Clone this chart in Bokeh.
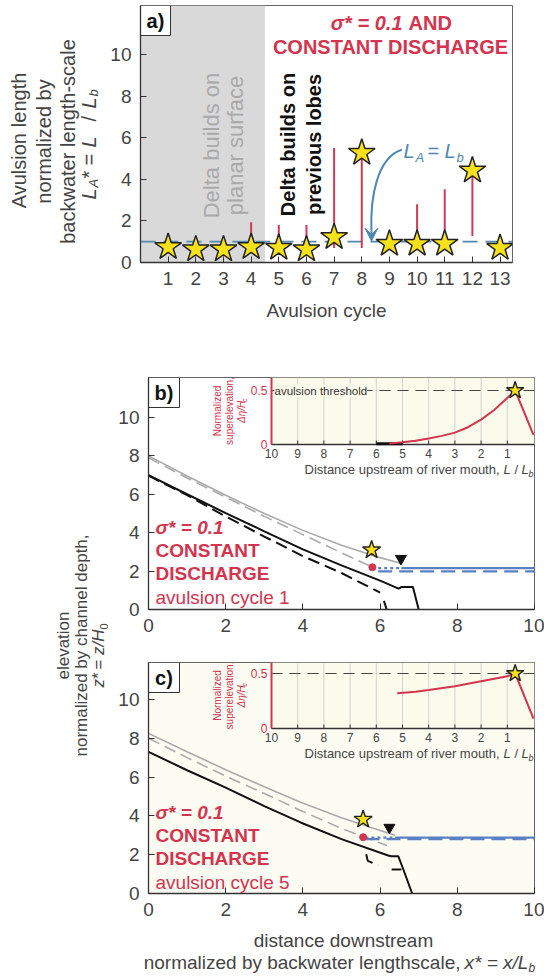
import math
from bokeh.plotting import figure
from bokeh.models import Range1d, Label, FixedTicker, Arrow, VeeHead, Span, BoxAnnotation
from bokeh.layouts import column, row
from bokeh.core.properties import value
from bokeh.embed import file_html
from bokeh.resources import INLINE

FONT = "Liberation Sans"
TXT = "#444444"
RED = "#d3354f"
STEM = "#cf3b57"
BLUE_A = "#4f88b0"
BLUE = "#5a80c3"
YEL = "#f7e11b"
GRAY = "#aaaaaa"
INSET_BG = "#fbfbec"
B_BG = "#ffffff"
C_BG = "#fcfcf3"
ROT = math.pi / 2

# ---------------- panel a data
cycles = list(range(1, 14))
la_star = [0.74, 0.63, 0.63, 0.74, 0.71, 0.63, 1.22, 5.27, 0.90, 0.90, 0.90, 4.42, 0.70]
stem_cycles = [4, 5, 6, 7, 8, 10, 11, 12]
stem_low = [0.9, 0.9, 0.9, 0.70, 0.70, 0.9, 0.9, 1.27]
stem_high = [1.94, 1.80, 1.80, 5.50, 5.27, 2.80, 3.52, 4.42]
la_ref = 1.0
planar_last = 4.5
a_yticks = [0, 2, 4, 6, 8, 10]
a_xlim = (0, 13.45)
a_ylim = (0, 12.35)
arrow_curve = dict(x0=[9.45], y0=[5.42], cx0=[8.55], cy0=[5.05], cx1=[8.3], cy1=[3.1], x1=[8.35], y1=[1.5])
arrow_tip = (8.35, 1.03)

# ---------------- panel b / c data
xs_ticks = [0, 2, 4, 6, 8, 10]
z_ticks = [0, 2, 4, 6, 8, 10]
xs_lim = (0, 10)

b_gray_x = [0, 1, 2, 3, 4, 5, 6, 6.55]
b_gray_y = [8.0, 6.95, 5.95, 5.0, 4.12, 3.35, 2.7, 2.4]
b_grayd_x = [0, 1, 2, 3, 4, 5, 5.75]
b_grayd_y = [7.9, 6.85, 5.85, 4.85, 3.9, 2.95, 2.25]
b_black_x = [0, 1, 2, 3, 4, 5, 6, 6.48, 6.55, 6.85, 7.0]
b_black_y = [7.0, 6.0, 5.02, 4.07, 3.13, 2.3, 1.5, 1.09, 1.17, 1.17, 0.0]
b_blackd_xs = [[0, 1, 2, 3, 4, 5, 6.0], [6.1, 6.17]]
b_blackd_ys = [[6.97, 5.95, 4.85, 3.8, 2.78, 1.9, 0.88], [0.45, 0.0]]
b_sea_x, b_sea_y = [6.55, 10.0], [2.15, 2.15]
b_seadot_x, b_seadot_y = [5.95, 6.55], [2.15, 2.15]
b_seadash_x, b_seadash_y = [5.95, 10.0], [1.98, 1.98]
b_avul = (5.8, 2.2)
b_star = (5.78, 3.1)
b_shore = (6.54, 2.65)

c_gray_x = [0, 1, 2, 3, 3.94, 5, 6, 6.39]
c_gray_y = [8.25, 7.3, 6.38, 5.5, 4.7, 3.9, 3.25, 3.0]
c_grayd_x = [0, 1, 2, 3, 3.94, 5, 6.18]
c_grayd_y = [8.0, 7.0, 6.05, 5.15, 4.28, 3.35, 2.47]
c_black_x = [0, 1, 2, 3, 3.94, 5, 6.21, 6.3, 6.47, 6.6, 6.83]
c_black_y = [7.3, 6.35, 5.45, 4.5, 3.66, 2.8, 1.96, 1.92, 1.92, 1.25, 0.0]
c_blackd_xs = [[5.64, 5.68, 5.95], [6.3, 6.55]]
c_blackd_ys = [[2.02, 1.68, 1.45], [1.24, 1.24]]
c_sea_x, c_sea_y = [6.39, 10.0], [2.88, 2.88]
c_seadot_x, c_seadot_y = [5.62, 6.39], [2.88, 2.88]
c_seadash_x, c_seadash_y = [5.62, 10.0], [2.8, 2.8]
c_avul = (5.56, 2.9)
c_star = (5.56, 3.82)
c_shore = (6.24, 3.4)

# inset: superelevation vs distance upstream of river mouth
inset_ticks = [10, 9, 8, 7, 6, 5, 4, 3, 2, 1]
inset_yticks = [0, 0.5]
threshold = 0.5
b_sup_x = [5.5, 5, 4.5, 4, 3.5, 3, 2.5, 2, 1.5, 1, 0.7, 0.0]
b_sup_y = [0.01, 0.02, 0.035, 0.055, 0.08, 0.11, 0.16, 0.23, 0.32, 0.43, 0.5, 0.09]
b_flat_x, b_flat_y = [6.0, 5.0], [0.006, 0.006]
c_sup_x = [5.2, 4.5, 4, 3, 2, 1, 0.7, 0.0]
c_sup_y = [0.32, 0.335, 0.35, 0.385, 0.43, 0.475, 0.5, 0.09]
sup_star = (0.7, 0.5)

# Arial / Liberation Sans advance widths (1/1000 em) for text measuring
_W = {" ": 278, ",": 278, "-": 333, "A": 667, "a": 556, "b": 556, "c": 500, "d": 556,
      "e": 556, "g": 556, "h": 556, "i": 222, "k": 500, "l": 222, "m": 833, "n": 556,
      "o": 556, "p": 556, "r": 333, "s": 500, "t": 278, "u": 556, "v": 500, "w": 722,
      "y": 500, "z": 500}


def text_w(s, size):
    return sum(_W.get(ch, 556) for ch in s) * size / 1000.0


class Geo:
    """page-pixel -> data mapping for a frame"""
    def __init__(self, fl, fr, ft, fb, xr, yr):
        self.fl, self.fr, self.ft, self.fb, self.xr, self.yr = fl, fr, ft, fb, xr, yr

    def x(self, px):
        return self.xr[0] + (px - self.fl) * (self.xr[1] - self.xr[0]) / (self.fr - self.fl)

    def y(self, py):
        return self.yr[0] + (self.fb - py) * (self.yr[1] - self.yr[0]) / (self.fb - self.ft)


def lab(p, g, px, py, text, size=19, color=TXT, style="normal", align="left",
        baseline="middle", angle=0.0, **kw):
    p.add_layout(Label(x=g.x(px), y=g.y(py), text=text, text_font=FONT,
                       text_font_size=f"{size}px", text_color=color,
                       text_font_style=style, text_align=align,
                       text_baseline=baseline, angle=angle, **kw))


def vlab(p, g, px, py_center, text, size, color=TXT, style="normal"):
    """vertical (bottom-to-top) text centred on py_center, placed word by word"""
    start = py_center + text_w(text, size) / 2
    for word in text.split(" "):
        lab(p, g, px, start, word, size, color, style, "left", angle=ROT)
        start -= text_w(word + " ", size)


def no_align(p):
    try:
        p.frame_align = False
    except Exception:
        pass


def strip(left, top, width, height, bl=0, br=0, bt=0, bb=0):
    """text-only figure; its frame is given by the borders (1 unit = 1 px)"""
    fw, fh = width - bl - br, height - bt - bb
    p = figure(width=width, height=height, x_range=Range1d(0, fw),
               y_range=Range1d(0, fh), min_border_left=bl, min_border_right=br,
               min_border_top=bt, min_border_bottom=bb, outline_line_color=None,
               output_backend="svg", toolbar_location=None, border_fill_color="white",
               background_fill_color="white")
    p.xaxis.visible = False
    p.yaxis.visible = False
    p.grid.visible = False
    no_align(p)
    return p, Geo(left + bl, left + width - br, top + bt, top + height - bb, (0, fw), (0, fh))


def style_axes(p, xt, yt, size="19px"):
    p.grid.visible = False
    p.xaxis.ticker = FixedTicker(ticks=xt)
    p.yaxis.ticker = FixedTicker(ticks=yt)
    for ax in (p.xaxis[0], p.yaxis[0]):
        ax.major_tick_in = 6
        ax.major_tick_out = 0
        ax.minor_tick_line_color = None
        ax.axis_line_color = "#333333"
        ax.axis_line_width = 1.3
        ax.major_tick_line_color = "#333333"
        ax.major_label_text_font = FONT
        ax.major_label_text_font_size = size
        ax.major_label_text_color = TXT
    p.xaxis.major_label_standoff = 9
    p.yaxis.major_label_standoff = 9


def label_box(p, g, l, t, r, b, text):
    p.quad(left=[g.x(l)], right=[g.x(r)], top=[g.y(t)], bottom=[g.y(b)],
           fill_color="white", line_color="#333333", line_width=1)
    lab(p, g, (l + r) / 2, (t + b) / 2, text, 20, "#111111", "bold", "center")


# ======================= panel a =======================
GA = Geo(140, 512, 5, 262, a_xlim, a_ylim)
pa = figure(width=444, height=335, x_range=Range1d(*a_xlim), y_range=Range1d(*a_ylim),
            output_backend="svg", toolbar_location=None,
            min_border_left=40, min_border_right=32, min_border_top=5, min_border_bottom=73,
            background_fill_color="white", border_fill_color="white",
            outline_line_color="#666666")
style_axes(pa, cycles, a_yticks)
pa.xaxis.axis_label = "Avulsion cycle"
pa.xaxis.axis_label_text_font = FONT
pa.xaxis.axis_label_text_font_size = "19px"
pa.xaxis.axis_label_text_font_style = "normal"
pa.xaxis.axis_label_text_color = TXT
pa.xaxis.axis_label_standoff = 12
pa.add_layout(BoxAnnotation(right=planar_last, fill_color="#d9d9d9", fill_alpha=1,
                            line_color=None, level="underlay"))
pa.add_layout(Span(location=la_ref, dimension="width", line_color=BLUE_A,
                   line_width=1.8, line_dash="15 8", level="underlay"))
pa.segment(x0=stem_cycles, y0=stem_low, x1=stem_cycles, y1=stem_high,
           line_color=STEM, line_width=2)
pa.bezier(line_color=BLUE_A, line_width=2, **arrow_curve)
pa.add_layout(Arrow(end=VeeHead(size=13, fill_color=BLUE_A, line_color=BLUE_A),
                    x_start=arrow_curve["x1"][0], y_start=arrow_curve["y1"][0],
                    x_end=arrow_tip[0], y_end=arrow_tip[1],
                    line_color=BLUE_A, line_width=2))
pa.scatter(cycles, la_star, marker="star", size=28, fill_color=YEL,
           line_color="#222222", line_width=1.5)

label_box(pa, GA, 140, 5, 170, 35, "a)")
lab(pa, GA, 402, 22, "σ* = 0.1", 20, RED, "bold italic", "right")
lab(pa, GA, 408, 22, "AND", 20, RED, "bold", "left")
lab(pa, GA, 390, 46, "CONSTANT DISCHARGE", 20, RED, "bold", "center")
lab(pa, GA, 211, 145, "Delta builds on", 22, "#a9a9a9", "normal", "center", angle=ROT)
lab(pa, GA, 235, 145, "planar surface", 22, "#a9a9a9", "normal", "center", angle=ROT)
lab(pa, GA, 287, 144, "Delta builds on", 20, "#111111", "bold", "center", angle=ROT)
lab(pa, GA, 313, 144, "previous lobes", 20, "#111111", "bold", "center", angle=ROT)
lab(pa, GA, 403, 150, "L", 20, BLUE_A, "italic")
lab(pa, GA, 415, 157, "A", 13, BLUE_A, "italic")
lab(pa, GA, 427, 150, "=", 20, BLUE_A, "normal")
lab(pa, GA, 444, 150, "L", 20, BLUE_A, "italic")
lab(pa, GA, 456, 157, "b", 13, BLUE_A, "italic")

# y title of panel a (same vertical borders as panel a)
ta, GTA = strip(0, 0, 100, 335, bt=5, bb=73)
vlab(ta, GTA, 18, 140, "Avulsion length", 20)
vlab(ta, GTA, 43, 141, "normalized by", 20)
vlab(ta, GTA, 67, 141, "backwater length-scale", 20)
for txt, py, sz, st, dx in [("L", 199, 20, "italic", 0), ("A", 187, 13, "italic", 5),
                            ("*", 178, 20, "normal", 0), ("=", 165, 20, "normal", 0),
                            ("L", 147, 20, "italic", 0), ("/", 121, 20, "normal", 0),
                            ("L", 108, 20, "italic", 0), ("b", 96, 13, "italic", 5)]:
    lab(ta, GTA, 88 + dx, py, txt, sz, TXT, st, "left", angle=ROT)


# ======================= panels b, c =======================
def inset_geo(ft, fb, y0_px, yhalf_px):
    ppx = (533 - 271) / 10.0
    xr = (10 + (271 - 148) / ppx, 0 - (534 - 533) / ppx)
    ppy = (y0_px - yhalf_px) / threshold
    yr = (-(fb - y0_px) / ppy, (y0_px - ft) / ppy)
    return Geo(148, 534, ft, fb, xr, yr)


def panel(height, bt, bb, ylim, bg, gi):
    p = figure(width=436, height=height, x_range=Range1d(*xs_lim), y_range=Range1d(*ylim),
               output_backend="svg", toolbar_location=None,
               min_border_left=40, min_border_right=10, min_border_top=bt, min_border_bottom=bb,
               background_fill_color=bg, border_fill_color="white",
               outline_line_color="#666666")
    style_axes(p, xs_ticks, z_ticks)
    p.extra_x_ranges = {"ix": Range1d(*gi.xr)}
    p.extra_y_ranges = {"iy": Range1d(*gi.yr)}
    return p


def draw_profiles(p, gx, gy, gdx, gdy, bx, by, bdxs, bdys, sea, seadot, seadash, avul, star, shore):
    p.line(gx, gy, line_color=GRAY, line_width=1.6)
    p.line(gdx, gdy, line_color=GRAY, line_width=1.6, line_dash="12 6")
    p.multi_line(bdxs, bdys, line_color="#111111", line_width=2, line_dash="12 6")
    p.line(bx, by, line_color="#111111", line_width=2)
    p.line(seadash[0], seadash[1], line_color=BLUE, line_width=2.2, line_dash="14 7")
    p.line(seadot[0], seadot[1], line_color=BLUE, line_width=2.2, line_dash="3 3")
    p.line(sea[0], sea[1], line_color=BLUE, line_width=2.2)
    p.scatter([avul[0]], [avul[1]], size=7, fill_color=RED, line_color=RED)
    p.scatter([star[0]], [star[1]], marker="star", size=19, fill_color=YEL,
              line_color="#222222", line_width=1.4)
    p.scatter([shore[0]], [shore[1]], marker="inverted_triangle", size=11,
              fill_color="#111111", line_color="#111111")


def draw_inset(p, g, gi, sx, sy, flat=None, thresh_label=False):
    kw = dict(x_range_name="ix", y_range_name="iy")
    xe, yt = gi.xr[1], gi.yr[1]
    x10 = inset_ticks[0]
    p.quad(left=[x10], right=[xe], bottom=[0], top=[yt], fill_color=INSET_BG,
           line_color=None, **kw)
    inner = inset_ticks[1:]
    p.segment(x0=inner, y0=[0] * len(inner), x1=inner, y1=[yt] * len(inner),
              line_color="#d2d2d2", line_width=1, **kw)
    p.segment(x0=[x10], y0=[threshold], x1=[xe], y1=[threshold], line_color="#444444",
              line_width=1.2, line_dash="11 7", **kw)
    p.segment(x0=[x10], y0=[0], x1=[xe], y1=[0], line_color="#333333", line_width=1.3, **kw)
    tl = 4.0 / ((gi.fb - gi.ft) / (gi.yr[1] - gi.yr[0]))
    p.segment(x0=inset_ticks, y0=[0] * len(inset_ticks), x1=inset_ticks,
              y1=[tl] * len(inset_ticks), line_color="#333333", line_width=1, **kw)
    p.segment(x0=[x10], y0=[0], x1=[x10], y1=[yt], line_color=RED, line_width=2, **kw)
    p.text(x=inset_ticks, y=[0] * len(inset_ticks), text=[str(t) for t in inset_ticks],
           y_offset=4, text_align="center", text_baseline="top", text_font_size="12px",
           text_color=TXT, text_font=value(FONT), **kw)
    p.text(x=[x10] * len(inset_yticks), y=inset_yticks, text=["0", "0.5"], x_offset=-4,
           text_align="right", text_baseline="middle", text_font_size="12px",
           text_color=RED, text_font=value(FONT), **kw)
    if flat is not None:
        p.line(flat[0], flat[1], line_color="#111111", line_width=3, **kw)
    p.line(sx, sy, line_color=RED, line_width=2, **kw)
    p.scatter([sup_star[0]], [sup_star[1]], marker="star", size=18, fill_color=YEL,
              line_color="#222222", line_width=1.4, **kw)
    ybase = gi.fb - (0 - gi.yr[0]) * (gi.fb - gi.ft) / (gi.yr[1] - gi.yr[0])
    y_mid = (gi.ft + ybase) / 2
    if thresh_label:
        lab(p, g, 274, ybase - 54, "avulsion threshold", 11.5, "#333333", "normal", "left",
            background_fill_color=INSET_BG)
    lab(p, g, 217, y_mid, "Normalized", 10, RED, "normal", "center", angle=ROT)
    lab(p, g, 229, y_mid, "superelevation,", 10, RED, "normal", "center", angle=ROT)
    lab(p, g, 241, y_mid + 12, "Δη/H", 10, RED, "italic", "left", angle=ROT)
    lab(p, g, 244, y_mid - 9, "c", 7, RED, "italic", "left", angle=ROT)
    yl = ybase + 25
    lab(p, g, 304, yl, "Distance upstream of river mouth,", 13, TXT, "normal", "left")
    lab(p, g, 503, yl, "L", 13, TXT, "italic", "left")
    lab(p, g, 514, yl, "/", 13, TXT, "normal", "left")
    lab(p, g, 521, yl, "L", 13, TXT, "italic", "left")
    lab(p, g, 528, yl + 4, "b", 9, TXT, "italic", "left")


def panel_text(p, g, y1, cycle):
    lab(p, g, 155, y1, "σ* = 0.1", 19, RED, "bold italic")
    lab(p, g, 155, y1 + 23, "CONSTANT", 19, RED, "bold")
    lab(p, g, 155, y1 + 46, "DISCHARGE", 19, RED, "bold")
    lab(p, g, 155, y1 + 70, f"avulsion cycle {cycle}", 19, RED, "normal")


# panel b (page y 335..640)
GB = Geo(148, 534, 377, 609, xs_lim, (0, 12.08))
GIB = inset_geo(377, 609, 444, 390)
pb = panel(305, 42, 31, GB.yr, B_BG, GIB)
draw_profiles(pb, b_gray_x, b_gray_y, b_grayd_x, b_grayd_y, b_black_x, b_black_y,
              b_blackd_xs, b_blackd_ys, (b_sea_x, b_sea_y), (b_seadot_x, b_seadot_y),
              (b_seadash_x, b_seadash_y), b_avul, b_star, b_shore)
draw_inset(pb, GB, GIB, b_sup_x, b_sup_y, flat=(b_flat_x, b_flat_y), thresh_label=True)
panel_text(pb, GB, 527, 1)
label_box(pb, GB, 148, 377, 179, 407, "b)")

# panel c (page y 640..925)
GC = Geo(148, 534, 662, 893, xs_lim, (0, 11.9))
GIC = inset_geo(662, 893, 728, 673)
pc = panel(285, 22, 32, GC.yr, C_BG, GIC)
draw_profiles(pc, c_gray_x, c_gray_y, c_grayd_x, c_grayd_y, c_black_x, c_black_y,
              c_blackd_xs, c_blackd_ys, (c_sea_x, c_sea_y), (c_seadot_x, c_seadot_y),
              (c_seadash_x, c_seadash_y), c_avul, c_star, c_shore)
draw_inset(pc, GC, GIC, c_sup_x, c_sup_y)
panel_text(pc, GC, 812, 5)
label_box(pc, GC, 148, 662, 179, 692, "c)")

# x title of panel c (page y 925..978)
tc, GTC = strip(108, 925, 436, 53, bl=0, br=0)
lab(tc, GTC, 343, 940, "distance downstream", 19, TXT, "normal", "center")
lab(tc, GTC, 460, 962, "normalized by backwater lengthscale,", 19, TXT, "normal", "right")
lab(tc, GTC, 464, 962, "x* = x/L", 19, TXT, "italic", "left")
lab(tc, GTC, 528, 967, "b", 12, TXT, "italic", "left")

# shared y title of panels b and c (page y 335..978)
tb, GTB = strip(0, 335, 108, 643)
vlab(tb, GTB, 63, 645, "elevation", 17)
vlab(tb, GTB, 81, 645, "normalized by channel depth,", 17)
for txt, py, sz, st, dx in [("z", 687, 17, "italic", 0), ("*", 678.5, 17, "normal", 0),
                            ("=", 669, 17, "normal", 0), ("z/H", 654.5, 17, "italic", 0),
                            ("0", 629, 11, "normal", 5)]:
    lab(tb, GTB, 98 + dx, py, txt, sz, TXT, st, "left", angle=ROT)

layout = column(row(ta, pa), row(tb, column(pb, pc, tc)))
open("out.html", "w").write(file_html(layout, INLINE))
